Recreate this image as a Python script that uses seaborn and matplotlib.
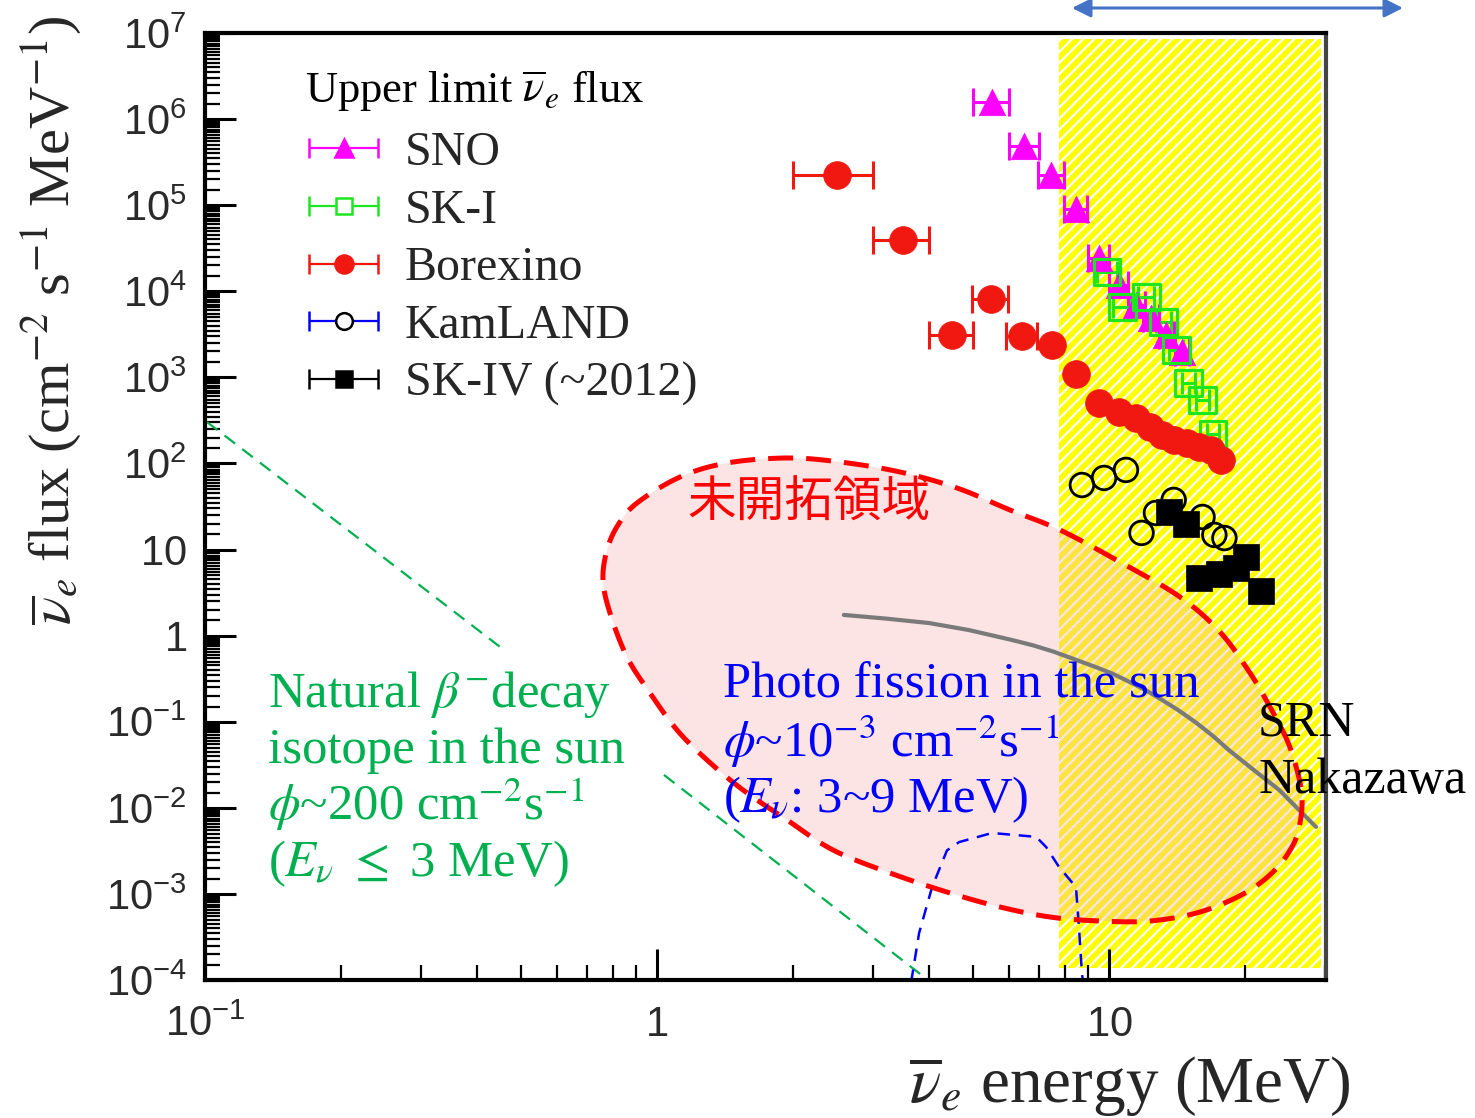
import numpy as np
import pandas as pd
import matplotlib
matplotlib.use("Agg")
import matplotlib.pyplot as plt
import matplotlib.ticker as mticker
from matplotlib.transforms import Affine2D
from matplotlib.patches import Polygon
from matplotlib.container import ErrorbarContainer
from matplotlib.legend_handler import HandlerErrorbar
import seaborn as sns

# ---------------- data ----------------
SNO_E = [5.5, 6.5, 7.45, 8.45, 9.5, 10.5, 11.5, 12.4, 13.4, 14.5]
SNO_FLUX = [1.58e6, 4.9e5, 2.24e5, 9.0e4, 2.44e4, 1.18e4, 6.9e3, 4.9e3, 3.1e3, 1.97e3]
SNO_XERR = [0.5, 0.5, 0.5, 0.5, 0.5, 0.5, 0.5, 0.5, 0.5, 0.5]

SKI_E = [9.9, 10.7, 12.1, 13.2, 14.1, 15.0, 16.1, 17.0]
SKI_FLUX = [1.67e4, 6.6e3, 8.6e3, 4.4e3, 2.08e3, 861, 546, 220]
SKI_XERR = [0.5, 0.5, 0.5, 0.5, 0.5, 0.5, 0.5, 0.5]

BX_E = [2.5, 3.5, 4.49, 5.48, 6.42, 7.47, 8.45, 9.5, 10.5, 11.5, 12.3, 13.1,
        13.9, 14.9, 15.8, 16.8, 17.7]
BX_FLUX = [2.24e5, 3.94e4, 3.1e3, 8.15e3, 3.0e3, 2.38e3, 1.1e3, 505, 396, 337,
           265, 214, 188, 173, 156, 144, 110]
BX_XERR = [0.5, 0.5, 0.5, 0.5, 0.5, np.nan, np.nan, np.nan, np.nan, np.nan, np.nan,
           np.nan, np.nan, np.nan, np.nan, np.nan, np.nan]

KL_E = [8.71, 9.75, 10.9, 11.8, 12.7, 13.9, 16.1, 17.1, 18.0]
KL_FLUX = [56.2, 67.9, 84.1, 15.6, 26.6, 37.7, 23.9, 14.8, 13.6]

SK4_E = [13.6, 14.8, 15.8, 17.5, 19.1, 20.1, 21.7]
SK4_FLUX = [27.4, 19.8, 4.68, 5.21, 6.11, 8.2, 3.30]

SRN_E = [2.59, 3.2, 4.0, 4.9, 6.1, 6.8, 7.55, 8.4, 9.36, 10.2, 11.1, 12.1, 13.1,
         14.3, 15.6, 17.0, 18.4, 20.9, 23.8, 26.3, 28.7]
SRN_FLUX = [1.74, 1.58, 1.40, 1.16, 0.89, 0.77, 0.65, 0.53, 0.43, 0.36, 0.29, 0.23,
            0.179, 0.134, 0.097, 0.068, 0.047, 0.0275, 0.0161, 0.0095, 0.0060]

PF_E = [3.65, 3.80, 4.06, 4.38, 4.66, 5.51, 6.90, 7.26, 7.75, 8.45, 8.58, 8.71, 8.75]
PF_FLUX = [9.5e-5, 3.5e-4, 1.2e-3, 3.2e-3, 4.0e-3, 5.1e-3, 4.6e-3, 3.5e-3,
           2.06e-3, 1.2e-3, 4.1e-4, 1.2e-4, 1.0e-4]

BETA_E1 = [0.101, 0.459]
BETA_FLUX1 = [303, 0.68]
BETA_E2 = [1.036, 4.10]
BETA_FLUX2 = [0.0241, 8.8e-5]

BAND_E = [7.75, 29.4]

XTICKS = [0.1, 1, 10]
XTICK_LABELS = [r"$\mathdefault{10^{-1}}$", r"$\mathdefault{1}$", r"$\mathdefault{10}$"]
YTICKS = [1e-4, 1e-3, 1e-2, 1e-1, 1, 10, 1e2, 1e3, 1e4, 1e5, 1e6, 1e7]
YTICK_LABELS = [r"$\mathdefault{10^{-4}}$", r"$\mathdefault{10^{-3}}$",
                r"$\mathdefault{10^{-2}}$", r"$\mathdefault{10^{-1}}$",
                r"$\mathdefault{1}$", r"$\mathdefault{10}$",
                r"$\mathdefault{10^{2}}$", r"$\mathdefault{10^{3}}$",
                r"$\mathdefault{10^{4}}$", r"$\mathdefault{10^{5}}$",
                r"$\mathdefault{10^{6}}$", r"$\mathdefault{10^{7}}$"]

NAMES = ["SNO", "SK-I", "Borexino", "KamLAND", "SK-IV (~2012)"]

# outline of the unexplored region (reference-pixel layout, decoration only)
REGION_OUTLINE_PX = [(603, 580), (607, 550), (618, 525), (637, 503), (680, 477),
                     (727, 463), (787, 458), (840, 462), (900, 472), (957, 488),
                     (1010, 510), (1060, 530), (1120, 562), (1180, 597), (1220, 632),
                     (1250, 673), (1270, 707), (1287, 740), (1297, 770), (1302, 797),
                     (1300, 823), (1293, 845), (1275, 870), (1245, 893), (1200, 912),
                     (1150, 921), (1100, 921), (1050, 917), (1000, 907), (950, 893),
                     (890, 873), (833, 850), (787, 820), (743, 790), (707, 760),
                     (677, 730), (650, 693), (627, 657), (610, 613)]

# ---------------- style ----------------
sns.set_theme(style="ticks")
plt.rcParams.update({
    "mathtext.fontset": "stix",
    "hatch.linewidth": 1.6,
    "axes.linewidth": 3.0,
    "axes.edgecolor": "black",
    "xtick.color": "black",
    "ytick.color": "black",
})
plt.rcParams["font.family"] = ["Liberation Sans", "DejaVu Sans"]
SERIF = ["Liberation Serif", "DejaVu Serif"]
CJK = ["Noto Sans CJK JP", "DejaVu Sans"]

W, H = 1475, 1118
fig = plt.figure(figsize=(W / 100, H / 100), dpi=100)
ax = fig.add_axes([205 / W, (H - 980) / H, 1121 / W, 947 / H])
ax.set_xscale("log")
ax.set_yscale("log")
REF = Affine2D().scale(1 / W, -1 / H).translate(0, 1) + fig.transFigure

MAGENTA = "#FF00FF"
GREEN = "#1EE61E"
RED = "#F01810"

# ---------------- long-form data ----------------
df = pd.concat([
    pd.DataFrame({"experiment": "SNO", "energy": SNO_E, "flux": SNO_FLUX, "xerr": SNO_XERR}),
    pd.DataFrame({"experiment": "SK-I", "energy": SKI_E, "flux": SKI_FLUX, "xerr": SKI_XERR}),
    pd.DataFrame({"experiment": "Borexino", "energy": BX_E, "flux": BX_FLUX, "xerr": BX_XERR}),
    pd.DataFrame({"experiment": "KamLAND", "energy": KL_E, "flux": KL_FLUX, "xerr": np.nan}),
    pd.DataFrame({"experiment": "SK-IV (~2012)", "energy": SK4_E, "flux": SK4_FLUX, "xerr": np.nan}),
], ignore_index=True)

# ---------------- background band ----------------
ax.axvspan(BAND_E[0], BAND_E[1], ymin=0.013, ymax=0.994, facecolor="#FFFF00",
           edgecolor="white", hatch="///", linewidth=0, zorder=0.5)


# ---------------- unexplored region ----------------
def closed_spline(pts, n=16):
    P = np.asarray(pts, float)
    m = len(P)
    t = np.linspace(0, 1, n, endpoint=False)[:, None]
    out = []
    for i in range(m):
        p0, p1, p2, p3 = P[i - 1], P[i], P[(i + 1) % m], P[(i + 2) % m]
        out.append(0.5 * (2 * p1 + (-p0 + p2) * t + (2 * p0 - 5 * p1 + 4 * p2 - p3) * t ** 2
                          + (-p0 + 3 * p1 - 3 * p2 + p3) * t ** 3))
    out = np.vstack(out)
    return np.vstack([out, out[:1]])


outline = closed_spline(REGION_OUTLINE_PX)
ax.add_patch(Polygon(outline, closed=True, transform=REF, facecolor="#F8B4B4",
                     alpha=0.35, edgecolor="none", zorder=0.8))
ax.add_patch(Polygon(outline, closed=True, transform=REF, fill=False,
                     edgecolor="#FF0000", linewidth=3.6, linestyle=(0, (5, 2.6)),
                     zorder=2.6))

# ---------------- theory curves ----------------
sns.lineplot(x=BETA_E1, y=BETA_FLUX1, sort=False, estimator=None, ax=ax, color="#00B050",
             linewidth=1.6, linestyle=(0, (6, 4)), legend=False, zorder=1.5)
sns.lineplot(x=BETA_E2, y=BETA_FLUX2, sort=False, estimator=None, ax=ax, color="#00B050",
             linewidth=1.6, linestyle=(0, (6, 4)), legend=False, zorder=1.5)
sns.lineplot(x=PF_E, y=PF_FLUX, sort=False, estimator=None, ax=ax, color="#0000FF",
             linewidth=1.8, linestyle=(0, (5, 3.5)), legend=False, zorder=1.6)
sns.lineplot(x=SRN_E, y=SRN_FLUX, sort=False, estimator=None, ax=ax, color="#7A7A7A",
             linewidth=3.0, legend=False, zorder=2.5)

# ---------------- measured limits ----------------
STYLE = {
    "SNO": dict(marker="^", size=19, fc=MAGENTA, ec=MAGENTA, lw=0.5, err=MAGENTA, cap=10),
    "SK-I": dict(marker="s", size=19, fc="none", ec=GREEN, lw=2.3, err=GREEN, cap=8),
    "Borexino": dict(marker="o", size=20, fc=RED, ec=RED, lw=0.5, err=RED, cap=10),
    "KamLAND": dict(marker="o", size=17, fc="none", ec="black", lw=2.0, err=None, cap=0),
    "SK-IV (~2012)": dict(marker="s", size=19, fc="black", ec="black", lw=0.5, err=None, cap=0),
}
for name in NAMES:
    st = STYLE[name]
    sub = df[df["experiment"] == name]
    if st["err"] is not None:
        ok = sub["xerr"].notna()
        ax.errorbar(sub["energy"][ok], sub["flux"][ok], xerr=sub["xerr"][ok], fmt="none",
                    ecolor=st["err"], elinewidth=2.2, capsize=st["cap"], capthick=2.2,
                    zorder=3)
    sns.scatterplot(data=sub, x="energy", y="flux", ax=ax, marker=st["marker"],
                    s=st["size"] ** 2, facecolor=st["fc"], edgecolor=st["ec"],
                    linewidth=st["lw"], legend=False, zorder=4)

# ---------------- axes styling ----------------
ax.set_xlim(0.1, 30.2)
ax.set_ylim(1e-4, 1e7)
ax.xaxis.set_major_locator(mticker.FixedLocator(XTICKS))
ax.xaxis.set_major_formatter(mticker.FixedFormatter(XTICK_LABELS))
ax.xaxis.set_minor_locator(mticker.LogLocator(base=10, subs=np.arange(2, 10), numticks=100))
ax.xaxis.set_minor_formatter(mticker.NullFormatter())
ax.yaxis.set_major_locator(mticker.FixedLocator(YTICKS))
ax.yaxis.set_major_formatter(mticker.FixedFormatter(YTICK_LABELS))
ax.yaxis.set_minor_locator(mticker.LogLocator(base=10, subs=np.arange(1.5, 10, 0.5), numticks=300))
ax.yaxis.set_minor_formatter(mticker.NullFormatter())
ax.tick_params(which="both", direction="in", top=False, right=False)
ax.tick_params(which="major", length=22, width=2.2, labelsize=30, labelcolor="#2a2a2a")
ax.tick_params(which="minor", length=11, width=1.6)
ax.tick_params(axis="y", which="major", pad=13)
ax.tick_params(axis="x", which="major", pad=18)
for s in ax.spines.values():
    s.set_linewidth(3.0)
    s.set_color("black")
ax.spines["right"].set_color("#444444")

ax.set_ylabel(r"$\overline{\nu}_e$ flux (cm$^{-2}$ s$^{-1}$ MeV$^{-1}$)",
              fontsize=42, family=SERIF, va="center", ha="center")
ax.yaxis.set_label_coords((52 - 205) / 1121, (980 - 320) / 947)
ax.set_xlabel(r"$\overline{\nu}_e$ energy (MeV)", fontsize=47, family=SERIF,
              va="center", ha="center")
ax.xaxis.set_label_coords((1130 - 205) / 1121, (980 - 1087) / 947)

# ---------------- legend ----------------
proxies = []
LEG = {
    "SNO": dict(fmt="^", ms=13, mfc=MAGENTA, mec=MAGENTA, ecolor=MAGENTA),
    "SK-I": dict(fmt="s", ms=12, mfc="white", mec=GREEN, ecolor=GREEN),
    "Borexino": dict(fmt="o", ms=13, mfc=RED, mec=RED, ecolor=RED),
    "KamLAND": dict(fmt="o", ms=12, mfc="white", mec="black", ecolor="#0000FF"),
    "SK-IV (~2012)": dict(fmt="s", ms=11, mfc="black", mec="black", ecolor="black"),
}
for name in NAMES:
    st = LEG[name]
    h = ax.errorbar([np.nan], [np.nan], xerr=[1.0], fmt=st["fmt"], ms=st["ms"],
                    mfc=st["mfc"], mec=st["mec"], mew=1.8, ecolor=st["ecolor"],
                    elinewidth=1.6, capsize=7.5, capthick=1.6, label=name)
    proxies.append(h)
leg = ax.legend(handles=proxies, labels=NAMES, loc="upper left",
                bbox_to_anchor=(309, 131), bbox_transform=REF, frameon=False,
                borderpad=0, borderaxespad=0, handlelength=1.45, handletextpad=0.55,
                labelspacing=0.285, prop={"family": SERIF, "size": 34.5},
                handler_map={ErrorbarContainer: HandlerErrorbar(xerr_size=0.725)})
leg.set_zorder(6)
fig.text(305, 102, r"Upper limit $\overline{\nu}_e$ flux", transform=REF,
         fontsize=32, family=SERIF, ha="left", va="baseline", color="black")

# ---------------- annotations ----------------
fig.text(809, 503, "未開拓領域", transform=REF, fontsize=35, family=CJK,
         color="#FF0000", ha="center", va="center", zorder=7)

GREEN_TXT = [r"Natural $\beta^{-}$decay", "isotope in the sun",
             r"$\phi$~200 cm$^{-2}$s$^{-1}$", r"($E_{\nu}$ $\leq$ 3 MeV)"]
for txt, yb in zip(GREEN_TXT, [707, 763, 820, 876]):
    fig.text(268, yb, txt, transform=REF, fontsize=36.5, family=SERIF,
             color="#00B050", ha="left", va="baseline")

BLUE_TXT = ["Photo fission in the sun", r"$\phi$~10$^{-3}$ cm$^{-2}$s$^{-1}$",
            r"($E_{\nu}$: 3~9 MeV)"]
for txt, yb in zip(BLUE_TXT, [698, 757, 812]):
    fig.text(723, yb, txt, transform=REF, fontsize=36.5, family=SERIF,
             color="#0000FF", ha="left", va="baseline")

for txt, yb in zip(["SRN", "Nakazawa"], [735, 793]):
    fig.text(1258, yb, txt, transform=REF, fontsize=36, family=SERIF,
             color="black", ha="left", va="baseline")

ax.annotate("", xy=(1403, 8), xytext=(1072, 8), xycoords=REF, textcoords=REF,
            annotation_clip=False,
            arrowprops=dict(arrowstyle="<|-|>,head_length=0.8,head_width=0.4",
                            color="#4472C4", lw=2.2, shrinkA=0, shrinkB=0,
                            mutation_scale=14))

ax.set_xlim(0.1, 30.2)
ax.set_ylim(1e-4, 1e7)
fig.savefig("out.png", dpi=100)
